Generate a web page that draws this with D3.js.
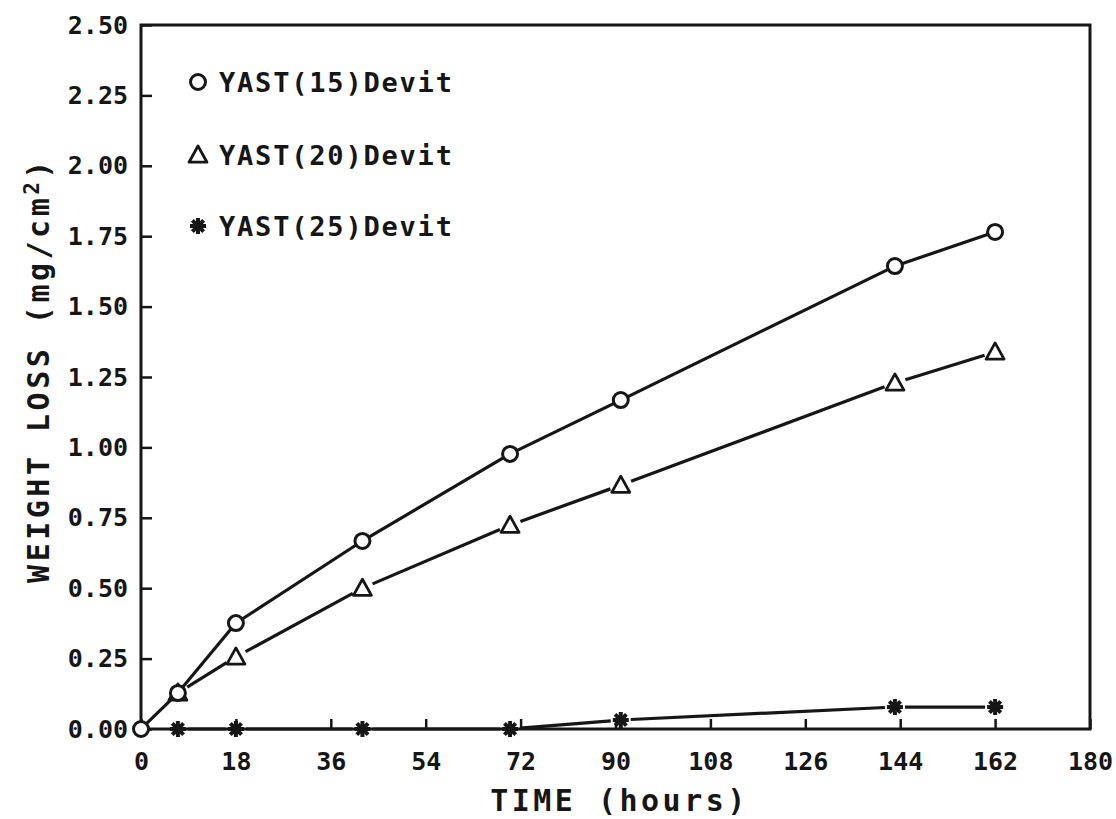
<!DOCTYPE html>
<html>
<head>
<meta charset="utf-8">
<script src="https://cdn.jsdelivr.net/npm/d3@7"></script>
<style>
  html, body { margin: 0; padding: 0; background: #fff; }
  svg { display: block; }
  .tick-label { font-family: "DejaVu Sans Mono", monospace; font-weight: bold; font-size: 25px; fill: #161616; }
  .title { font-family: "DejaVu Sans Mono", monospace; font-weight: bold; font-size: 30px; fill: #161616; letter-spacing: 3.5px; }
  .legend-text { font-family: "DejaVu Sans Mono", monospace; font-weight: bold; font-size: 27px; fill: #161616; letter-spacing: 1.8px; }
</style>
</head>
<body>
<div id="chart"></div>
<script>
// Data
const seriesNames = ['YAST(15)Devit', 'YAST(20)Devit', 'YAST(25)Devit'];
const seriesSymbols = ['circle', 'triangle', 'star'];

const hours15 = [0, 7, 18, 42, 70, 91, 143, 162];
const loss15  = [0, 0.128, 0.376, 0.668, 0.977, 1.168, 1.644, 1.765];

const hours20 = [7, 18, 42, 70, 91, 143, 162];
const loss20  = [0.128, 0.256, 0.50, 0.724, 0.866, 1.229, 1.339];

const hours25 = [7, 18, 42, 70, 91, 143, 162];
const loss25  = [0, 0, 0, 0, 0.032, 0.078, 0.078];

const xTicks = [0, 18, 36, 54, 72, 90, 108, 126, 144, 162, 180];
const yTicks = [0, 0.25, 0.5, 0.75, 1.0, 1.25, 1.5, 1.75, 2.0, 2.25, 2.5];

const width = 1116, height = 819;
const margin = { left: 141, right: 26, top: 25, bottom: 90 };
const ink = '#161616';

const svg = d3.select('#chart').append('svg')
  .attr('width', width)
  .attr('height', height);

svg.append('rect').attr('width', width).attr('height', height).attr('fill', '#fff');

const x = d3.scaleLinear().domain([0, 180]).range([margin.left, width - margin.right]);
const y = d3.scaleLinear().domain([0, 2.5]).range([height - margin.bottom, margin.top]);

// Axes with inward ticks
const xAxis = svg.append('g')
  .attr('transform', `translate(0,${y(0)})`)
  .call(d3.axisBottom(x).tickValues(xTicks).tickSize(-10).tickPadding(23).tickFormat(d3.format('d')));

const yAxis = svg.append('g')
  .attr('transform', `translate(${x(0)},0)`)
  .call(d3.axisLeft(y).tickValues(yTicks).tickSize(-11).tickPadding(13).tickFormat(d3.format('.2f')));

[xAxis, yAxis].forEach(g => {
  g.select('.domain').remove();
  g.selectAll('.tick line').attr('stroke', ink).attr('stroke-width', 2.5);
  g.selectAll('.tick text').attr('class', 'tick-label').attr('fill', ink);
});

// Plot frame
svg.append('rect')
  .attr('x', x(0)).attr('y', y(2.5))
  .attr('width', x(180) - x(0)).attr('height', y(0) - y(2.5))
  .attr('fill', 'none').attr('stroke', ink).attr('stroke-width', 3);

// Titles
svg.append('text')
  .attr('class', 'title')
  .attr('x', (x(0) + x(180)) / 2 + 4)
  .attr('y', 811)
  .attr('text-anchor', 'middle')
  .text('TIME (hours)');

const yTitle = svg.append('text')
  .attr('class', 'title')
  .attr('transform', `translate(49,${(y(0) + y(2.5)) / 2 - 7}) rotate(-90)`)
  .attr('text-anchor', 'middle');
yTitle.append('tspan').text('WEIGHT LOSS (mg/cm');
yTitle.append('tspan').attr('dy', -10).attr('font-size', '21px').text('2');
yTitle.append('tspan').attr('dy', 10).text(')');

// Marker drawing
function drawMarker(g, type, cx, cy) {
  if (type === 'circle') {
    g.append('circle').attr('cx', cx).attr('cy', cy).attr('r', 7.5)
      .attr('fill', '#fff').attr('stroke', ink).attr('stroke-width', 3);
  } else if (type === 'triangle') {
    const s = 9;
    g.append('path')
      .attr('d', `M${cx},${cy - s}L${cx + s},${cy + s * 0.8}L${cx - s},${cy + s * 0.8}Z`)
      .attr('fill', '#fff').attr('stroke', ink).attr('stroke-width', 2.8).attr('stroke-linejoin', 'round');
  } else {
    const s = 8;
    const star = g.append('g').attr('stroke', ink).attr('stroke-width', 4);
    [0, 45, 90, 135].forEach(a => {
      const r = a * Math.PI / 180;
      star.append('line')
        .attr('x1', cx - s * Math.cos(r)).attr('y1', cy - s * Math.sin(r))
        .attr('x2', cx + s * Math.cos(r)).attr('y2', cy + s * Math.sin(r));
    });
  }
}

const gaps = { circle: 8, triangle: 11, star: 10 };

// Series: line segments stop short of each marker, like the plotter output
function drawSeries(hours, values, type) {
  const g = svg.append('g');
  const pts = hours.map((h, i) => [x(h), y(values[i])]);
  const gap = gaps[type];
  for (let i = 0; i < pts.length - 1; i++) {
    const [x1, y1] = pts[i], [x2, y2] = pts[i + 1];
    const len = Math.hypot(x2 - x1, y2 - y1);
    const ux = (x2 - x1) / len, uy = (y2 - y1) / len;
    g.append('line')
      .attr('x1', x1 + ux * gap).attr('y1', y1 + uy * gap)
      .attr('x2', x2 - ux * gap).attr('y2', y2 - uy * gap)
      .attr('stroke', ink).attr('stroke-width', 3.2);
  }
  pts.forEach(p => drawMarker(g, type, p[0], p[1]));
}

drawSeries(hours25, loss25, 'star');
drawSeries(hours20, loss20, 'triangle');
drawSeries(hours15, loss15, 'circle');

// Legend
const legendRows = [82, 155, 226];
seriesNames.forEach((name, i) => {
  const g = svg.append('g');
  drawMarker(g, seriesSymbols[i], 198, legendRows[i]);
  g.append('text')
    .attr('class', 'legend-text')
    .attr('x', 219)
    .attr('y', legendRows[i] + 10)
    .text(name);
});
</script>
</body>
</html>
